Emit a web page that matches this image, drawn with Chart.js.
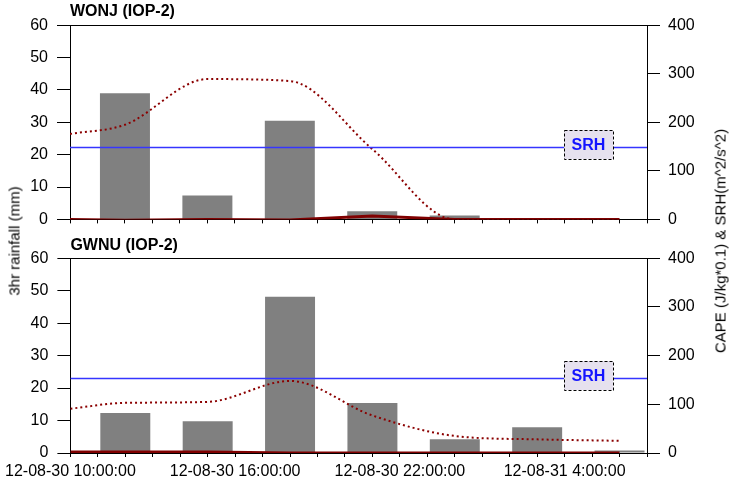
<!DOCTYPE html>
<html><head><meta charset="utf-8">
<script src="https://cdn.jsdelivr.net/npm/chart.js@4.4.0/dist/chart.umd.min.js"></script>
<style>
html,body{margin:0;padding:0;background:#fff;}
#wrap{position:relative;width:731px;height:494px;overflow:hidden;background:#fff;}
.cv{position:absolute;left:0;}
#c1box{top:0;width:731px;height:238px;}
#c2box{top:230px;width:731px;height:264px;}
.ytitle{position:absolute;font:15px 'Liberation Sans',Arial,sans-serif;color:#000;white-space:nowrap;transform:translate(-50%,-50%) rotate(-90deg);}
</style></head>
<body><div id="wrap">
<div class="cv" id="c1box"><canvas id="c1" width="731" height="238"></canvas></div>
<div class="cv" id="c2box"><canvas id="c2" width="731" height="264"></canvas></div>
<div class="ytitle" style="left:14px;top:241px;">3hr rainfall (mm)</div>
<div class="ytitle" style="left:720px;top:241px;">CAPE (J/kg*0.1) &amp; SRH(m^2/s^2)</div>
</div>
<script>
// ---- data (hours after 12-08-30 10:00:00) ----
const barHours  = [2, 5, 8, 11, 14, 17, 20];          // 12:00 ... 06:00 (3-hourly)
const lineHours = [0, 2, 5, 8, 11, 14, 17, 20];       // 10:00, 12:00 ... 06:00
const wonjRain = [39, 7.4, 30.5, 2.5, 1.2, 0, 0];
const gwnuRain = [12.3, 9.8, 48.1, 15.4, 4.2, 7.9, 0.8];
const wonjCape = [176, 195, 289, 285, 145, 0, 0, 0];
const gwnuCape = [91, 103, 105, 148, 77, 35, 28, 25];
const wonjSrh  = [0, -1.5, 0, -1, 7, 0, 0, 0];
const gwnuSrh  = [2, 2, 2, 0, 0, 0, 0, 0];
const srhLevels = [148, 153];
const panelTitles = ['WONJ (IOP-2)', 'GWNU (IOP-2)'];
const tickHours  = [0, 6, 12, 18];
const tickLabels = ['12-08-30 10:00:00', '12-08-30 16:00:00', '12-08-30 22:00:00', '12-08-31 4:00:00'];
const xRange = [0, 21];
const leftRange = [0, 60, 10];
const rightRange = [0, 400, 100];
const srhText = 'SRH';

Chart.defaults.font.family = "'Liberation Sans', Arial, sans-serif";
Chart.defaults.color = '#000';

const srhBoxPlugin = {
  id: 'srhBox',
  afterDatasetsDraw(chart, args, opts) {
    const ctx = chart.ctx;
    const y = chart.scales.y2.getPixelForValue(opts.level) - 3;
    const cx = chart.chartArea.right - 58.5;
    const w = 49, h = 29;
    ctx.save();
    ctx.fillStyle = '#E6E1EE';
    ctx.fillRect(Math.round(cx - w/2), Math.round(y - h/2), w, h);
    ctx.setLineDash([3, 2]);
    ctx.strokeStyle = '#000';
    ctx.lineWidth = 1;
    ctx.strokeRect(Math.round(cx - w/2) + 0.5, Math.round(y - h/2) + 0.5, w, h);
    ctx.setLineDash([]);
    ctx.fillStyle = '#1414ff';
    ctx.font = "bold 16px 'Liberation Sans', Arial, sans-serif";
    ctx.textAlign = 'center';
    ctx.textBaseline = 'middle';
    ctx.fillText(srhText, cx, y + 1);
    ctx.restore();
  }
};

function makeChart(id, title, rain, cape, srh, level, showLabels, xAxisHeight, titlePad) {
  const axisGrid = {drawOnChartArea: false, color: '#000', tickLength: 13, tickWidth: 1};
  return new Chart(document.getElementById(id), {
    type: 'bar',
    data: {
      datasets: [
        {type: 'bar', label: 'rain', yAxisID: 'y', xAxisID: 'x',
         data: barHours.map((h, i) => ({x: h, y: rain[i]})),
         backgroundColor: '#808080', borderWidth: 0,
         categoryPercentage: 1, barPercentage: 1.82, order: 10},
        {type: 'line', label: 'CAPE', yAxisID: 'y2', xAxisID: 'x',
         data: lineHours.map((h, i) => ({x: h, y: cape[i]})),
         borderColor: '#8B0000', borderWidth: 2, borderDash: [2, 3],
         cubicInterpolationMode: 'monotone', pointRadius: 0, fill: false, order: 3},
        {type: 'line', label: 'SRH', yAxisID: 'y2', xAxisID: 'x',
         data: lineHours.map((h, i) => ({x: h, y: srh[i]})),
         borderColor: '#800000', borderWidth: 3, tension: 0,
         pointRadius: 0, fill: false, order: 1},
        {type: 'line', label: 'SRH level', yAxisID: 'y2', xAxisID: 'x',
         data: xRange.map(h => ({x: h, y: level})),
         borderColor: '#3535ff', borderWidth: 1.4, pointRadius: 0, fill: false, order: 2}
      ]
    },
    options: {
      responsive: false,
      animation: false,
      events: [],
      layout: {padding: 0},
      plugins: {
        legend: {display: false},
        tooltip: {enabled: false},
        title: {display: true, text: title, align: 'start', fullSize: false,
                font: {size: 16, weight: 'bold'}, color: '#000',
                padding: {top: titlePad[0], bottom: titlePad[1]}},
        srhBox: {level: level}
      },
      scales: {
        x: {type: 'linear', position: 'bottom', min: xRange[0], max: xRange[1], offset: false,
            grid: {drawOnChartArea: false, color: '#000', tickLength: 4, offset: false},
            border: {display: true, color: '#000', width: 1},
            ticks: {stepSize: 1, autoSkip: false, maxRotation: 0, minRotation: 0,
                    display: showLabels, padding: 5, font: {size: 16}, color: '#000',
                    callback: (v) => { const i = tickHours.indexOf(v); return i >= 0 ? tickLabels[i] : ''; }},
            afterFit: (s) => { s.height = xAxisHeight; }},
        xTop: {type: 'linear', position: 'top', min: xRange[0], max: xRange[1],
               grid: {drawOnChartArea: false, drawTicks: false},
               border: {display: true, color: '#000', width: 1},
               ticks: {display: false},
               afterFit: (s) => { s.height = 0; }},
        y: {type: 'linear', position: 'left', min: leftRange[0], max: leftRange[1],
            grid: axisGrid, border: {display: true, color: '#000', width: 1},
            ticks: {stepSize: leftRange[2], padding: 9, font: {size: 16}, color: '#000'},
            afterFit: (s) => { s.width = 70; }},
        y2: {type: 'linear', position: 'right', min: rightRange[0], max: rightRange[1],
             grid: axisGrid, border: {display: true, color: '#000', width: 1},
             ticks: {stepSize: rightRange[2], padding: 8, font: {size: 16}, color: '#000'},
             afterFit: (s) => { s.width = 84; }}
      }
    },
    plugins: [srhBoxPlugin]
  });
}

makeChart('c1', panelTitles[0], wonjRain, wonjCape, wonjSrh, srhLevels[0], false, 18, [2, 4]);
makeChart('c2', panelTitles[1], gwnuRain, gwnuCape, gwnuSrh, srhLevels[1], true, 41, [6, 3]);
</script>
</body></html>
